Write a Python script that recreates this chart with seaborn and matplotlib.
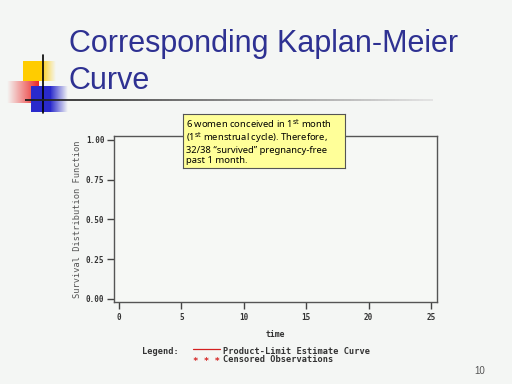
import numpy as np
import matplotlib
matplotlib.use("Agg")
import matplotlib.pyplot as plt
import seaborn as sns
from matplotlib.lines import Line2D
from matplotlib.patches import Rectangle

# chart data (the slide shows the empty axes before the curve appears)
time = []
survival = []
x_ticks = [0, 5, 10, 15, 20, 25]
y_ticks = [0.00, 0.25, 0.50, 0.75, 1.00]
y_tick_labels = ["0.00", "0.25", "0.50", "0.75", "1.00"]

title_lines = ["Corresponding Kaplan-Meier", "Curve"]
note = ("6 women conceived in 1$^{\\mathrm{st}}$ month\n"
        "(1$^{\\mathrm{st}}$ menstrual cycle). Therefore,\n"
        "32/38 \u201csurvived\u201d pregnancy-free\n"
        "past 1 month.")

W, H = 512, 384
BG = "#f4f6f4"
MONO = "DejaVu Sans Mono"


def px(x, y, w=0, h=0):
    """pixel box (top-left origin) -> figure fraction rect"""
    return [x / W, 1 - (y + h) / H, w / W, h / H]


def gradient_patch(fig, rect, rgb, direction="left"):
    """small faded square used as slide decoration"""
    ax = fig.add_axes(rect)
    n = 64
    ramp = np.linspace(1, 0, n) if direction == "right" else np.linspace(0, 1, n)
    img = np.ones((8, n, 4))
    img[..., :3] = rgb
    img[..., 3] = ramp[None, :]
    ax.imshow(img, aspect="auto", interpolation="bilinear")
    ax.axis("off")


sns.set_theme(style="white")
plt.rcParams["font.family"] = ["Liberation Sans", "DejaVu Sans"]

fig = plt.figure(figsize=(5.12, 3.84), dpi=100, facecolor=BG)

# slide decorations
yel = fig.add_axes(px(23, 61, 18, 20))
yel.add_patch(Rectangle((0, 0), 1, 1, color="#ffcc00"))
yel.axis("off")
gradient_patch(fig, px(40, 61, 16, 20), (1.0, 0.8, 0.0), "right")
gradient_patch(fig, px(7, 81, 32, 22), (0.93, 0.15, 0.15), "left")
blu = fig.add_axes(px(31, 86, 20, 26))
blu.add_patch(Rectangle((0, 0), 1, 1, color="#2a2acc"))
blu.axis("off")
gradient_patch(fig, px(50, 86, 18, 26), (0.16, 0.16, 0.8), "right")

deco = fig.add_axes([0, 0, 1, 1], facecolor="none")
deco.set_xlim(0, W)
deco.set_ylim(H, 0)
deco.axis("off")
deco.plot([43, 43], [55, 113], color="black", lw=1.2)
xs = np.linspace(25, 433, 120)
for i in range(len(xs) - 1):
    g = 0.1 + 0.8 * i / len(xs)
    deco.plot(xs[i:i + 2], [100, 100], color=(g, g, g), lw=1.3,
              solid_capstyle="butt")

for baseline, line in zip([52, 89], title_lines):
    fig.text(69 / W, 1 - baseline / H, line, color="#2e3192", fontsize=22,
             ha="left", va="baseline")

# plot frame
ax = fig.add_axes(px(114, 136, 323, 166))
ax.set_facecolor("#f6f8f5")
sns.lineplot(x=time, y=survival, ax=ax, color="#d42020", lw=1,
             drawstyle="steps-post")
ax.set_xlim(-0.4, 25.48)
ax.set_ylim(-0.019, 1.025)
for s in ax.spines.values():
    s.set_color("#555555")
    s.set_linewidth(1)
ax.set_xticks(x_ticks)
ax.set_yticks(y_ticks)
ax.set_yticklabels(y_tick_labels)
ax.tick_params(axis="both", direction="out", length=5, width=1,
               color="#444444", bottom=True, left=True, pad=2)
for lab in ax.get_xticklabels() + ax.get_yticklabels():
    lab.set_fontfamily(MONO)
    lab.set_fontsize(5.5)
    lab.set_fontweight("bold")
    lab.set_color("#333333")
ax.tick_params(axis="x", pad=3)
ax.set_xlabel("time", fontfamily=MONO, fontsize=5.8, fontweight="bold",
              color="#333333", labelpad=6)
ax.set_ylabel("Survival Distribution Function", fontfamily=MONO,
              fontsize=6.2, color="#555555", labelpad=3)

# legend block (SAS style)
fig.text(142 / W, 1 - 352 / H, "Legend:", fontfamily=MONO, fontsize=6.2,
         fontweight="bold", color="#333333", va="center")
deco.add_line(Line2D([193, 220], [349, 349], color="#d42020", lw=0.9))
fig.text(223 / W, 1 - 352 / H, "Product-Limit Estimate Curve",
         fontfamily=MONO, fontsize=6.2, fontweight="bold", color="#333333",
         va="center")
fig.text(193 / W, 1 - 361 / H, "* * *", fontfamily=MONO, fontsize=6.5,
         fontweight="bold", color="#d42020", va="center")
fig.text(223 / W, 1 - 360 / H, "Censored Observations", fontfamily=MONO,
         fontsize=6.2, fontweight="bold", color="#333333", va="center")

fig.text(474 / W, 1 - 371 / H, "10", fontsize=7, color="#555555",
         va="center")

# yellow callout
box = fig.add_axes(px(183, 114, 162, 54), facecolor="#ffff99")
box.set_xticks([])
box.set_yticks([])
for s in box.spines.values():
    s.set_color("#555555")
    s.set_linewidth(0.8)
box.text(0.02, 0.5, note, transform=box.transAxes, fontsize=6.8,
         va="center", ha="left", linespacing=1.1, color="black",
         family=["Noto Sans", "DejaVu Sans"])

fig.savefig("out.png", dpi=100, facecolor=BG)
